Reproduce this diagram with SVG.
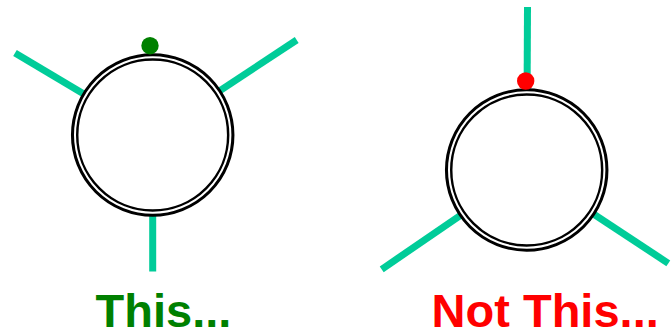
<svg xmlns="http://www.w3.org/2000/svg" width="671" height="332" viewBox="0 0 671 332">
<style>
.spoke{stroke:#00cc99;stroke-width:7;fill:none}
.ringO{fill:#fff;stroke:#000;stroke-width:7.5}
.ringI{fill:none;stroke:#fff;stroke-width:2}
.lbl{font-family:"Liberation Sans",Arial,sans-serif;font-weight:bold;font-size:47px}
</style>
<g id="connectors">
<line class="spoke" x1="15" y1="53" x2="152.7" y2="135"/>
<line class="spoke" x1="296.7" y1="40" x2="152.7" y2="135"/>
<line class="spoke" x1="152.7" y1="271.5" x2="152.7" y2="135"/>
<line class="spoke" x1="527.5" y1="7" x2="526.7" y2="170"/>
<line class="spoke" x1="381.7" y1="269.3" x2="526.7" y2="170"/>
<line class="spoke" x1="668.3" y1="263.3" x2="526.7" y2="170"/>
</g>
<g id="good">
<circle class="ringO" cx="152.7" cy="135" r="78"/>
<circle class="ringI" cx="152.7" cy="135" r="77.7"/>
<circle cx="150" cy="45.7" r="8.7" fill="#008000"/>
</g>
<g id="bad">
<circle class="ringO" cx="526.7" cy="170" r="78"/>
<circle class="ringI" cx="526.7" cy="170" r="77.7"/>
<circle cx="525.7" cy="81" r="8.7" fill="#ff0000"/>
</g>
<g id="labels">
<text class="lbl" x="95.6" y="326.8" fill="#008000">This...</text>
<text class="lbl" x="431.6" y="326.8" fill="#ff0000">Not This...</text>
</g>
</svg>
